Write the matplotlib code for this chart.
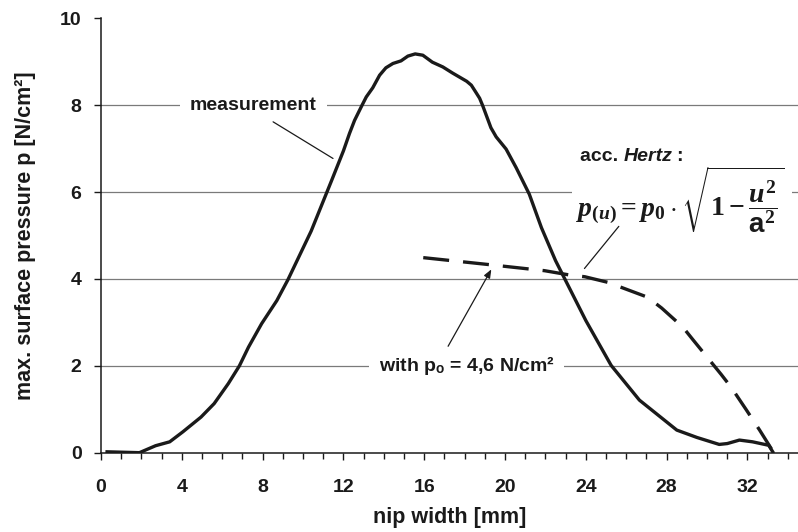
import matplotlib
matplotlib.use("Agg")
import matplotlib.pyplot as plt
from matplotlib.patches import Rectangle
from matplotlib.ticker import MultipleLocator

plt.rcParams['font.family'] = ['Liberation Sans', 'DejaVu Sans']
plt.rcParams['font.weight'] = 'bold'
plt.rcParams['axes.labelweight'] = 'bold'
plt.rcParams['mathtext.fontset'] = 'custom'
plt.rcParams['mathtext.rm'] = 'Liberation Serif:bold'
plt.rcParams['mathtext.it'] = 'Liberation Serif:italic:bold'
plt.rcParams['mathtext.bf'] = 'Liberation Serif:bold'
plt.rcParams['mathtext.sf'] = 'Liberation Sans'

# measured pressure profile across the nip
meas_x = [0.3, 1.9, 2.7, 3.4, 4.05, 4.95, 5.6, 6.3, 6.85, 7.3, 7.95, 8.7, 9.25,
          10.4, 11.4, 12.0, 12.3, 12.55, 12.9, 13.13, 13.45, 13.79, 14.1, 14.45,
          14.85, 15.19, 15.55, 15.93, 16.4, 16.92, 17.4, 18.1, 18.33, 18.55,
          18.74, 18.9, 19.3, 19.56, 20.05, 20.55, 21.2, 21.8, 22.5, 23.0, 24.0,
          25.25, 26.65, 28.5, 29.5, 30.6, 31.0, 31.6, 32.25, 33.05, 33.25]
meas_y = [0.02, 0.0, 0.16, 0.25, 0.48, 0.82, 1.13, 1.59, 2.0, 2.43, 2.97, 3.5, 3.98,
          5.1, 6.25, 6.95, 7.35, 7.65, 7.98, 8.19, 8.4, 8.69, 8.86, 8.96,
          9.02, 9.13, 9.18, 9.15, 8.99, 8.88, 8.74, 8.55, 8.46, 8.3,
          8.16, 7.98, 7.48, 7.27, 6.99, 6.56, 5.95, 5.18, 4.42, 3.96, 3.04,
          2.01, 1.21, 0.52, 0.35, 0.19, 0.21, 0.29, 0.25, 0.17, 0.02]

# Hertz curve (p0 = 4,6 N/cm²)
hertz_x = [15.95, 19.2, 21.95, 23.2, 23.95, 25.1, 25.9, 27.05, 27.75, 28.8, 29.3,
           30.7, 31.2, 31.95, 32.6, 33.3]
hertz_y = [4.49, 4.33, 4.19, 4.09, 4.05, 3.92, 3.78, 3.58, 3.33, 2.89, 2.6,
           1.8, 1.5, 0.98, 0.52, 0.0]

grid_levels = [2, 4, 6, 8]
xticks = [0, 4, 8, 12, 16, 20, 24, 28, 32]
yticks = [0, 2, 4, 6, 8, 10]

ink = '#1a1a1a'

fig = plt.figure(figsize=(7.98, 5.32), dpi=100)
ax = fig.add_axes([0.1266, 0.1491, 0.8734, 0.8165])

for lv in grid_levels:
    ax.axhline(lv, color='#7a7a7a', lw=0.9, zorder=1)

ax.plot(meas_x, meas_y, color=ink, lw=2.4, solid_joinstyle='round', zorder=4)
ax.plot(hertz_x, hertz_y, color=ink, lw=2.4, dashes=(7.8, 4.2),
        dash_capstyle='butt', zorder=4)

ax.set_xlim(0, 34.5)
ax.set_ylim(0, 10)
ax.set_xticks(xticks)
ax.xaxis.set_minor_locator(MultipleLocator(1))
ax.set_yticks(yticks)
ax.tick_params(axis='x', which='major', length=5, width=1, pad=14, labelsize=14, colors=ink)
ax.tick_params(axis='x', which='minor', length=4.5, width=1, colors=ink)
ax.tick_params(axis='y', length=5, width=1, pad=9, labelsize=14, colors=ink)

for side in ['top', 'right']:
    ax.spines[side].set_visible(False)
for side in ['left', 'bottom']:
    ax.spines[side].set_linewidth(1.1)
    ax.spines[side].set_color(ink)

ax.set_xlabel('nip width [mm]', fontsize=15.5, fontweight='bold', color=ink, labelpad=8)
ax.set_ylabel('max. surface pressure p [N/cm²]', fontsize=15.5, fontweight='bold', color=ink)
ax.yaxis.set_label_coords(-0.094, 0.5)

box = dict(boxstyle='square,pad=0.5', fc='white', ec='none')

ax.text(7.55, 8, 'measurement', fontsize=14, ha='center', va='center',
        color=ink, bbox=box, zorder=3)
ax.annotate('', xy=(11.6, 6.74), xytext=(8.4, 7.65),
            arrowprops=dict(arrowstyle='-', color=ink, lw=0.9), zorder=5)

ax.text(18.1, 2, r'with p$_\mathregular{o}$ = 4,6 N/cm²', fontsize=14,
        ha='center', va='center', color=ink, bbox=box, zorder=3)
ax.annotate('', xy=(19.32, 4.22), xytext=(17.18, 2.45),
            arrowprops=dict(arrowstyle='-|>,head_length=0.5,head_width=0.2',
                            color=ink, lw=0.9, shrinkA=0, shrinkB=0), zorder=5)

t1 = ax.text(23.72, 6.81, 'acc. ', fontsize=14, ha='left', va='center', color=ink, zorder=6)
t2 = ax.annotate('Hertz', xy=(1, 0), xycoords=t1, ha='left', va='bottom',
                 fontsize=14, style='italic', color=ink, zorder=6)
ax.annotate(':', xy=(1, 0), xycoords=t2, xytext=(2.5, 0), textcoords='offset points',
            ha='left', va='bottom', fontsize=14, color=ink, zorder=6)

# white patch behind the formula (breaks the 6-gridline)
ax.add_patch(Rectangle((23.3, 5.0), 10.9, 1.72, fc='white', ec='none', zorder=2))
f1 = ax.text(23.5, 5.45, r'$p_{(u)} = p_0 \cdot$', fontsize=20,
             ha='left', va='baseline', color=ink, zorder=3)
ax.annotate(r'$\sqrt{1 - \dfrac{u^2}{\mathsf{a}^2}}$', xy=(1, 5.45),
            xycoords=(f1, 'data'), xytext=(3.5, 0), textcoords='offset points',
            fontsize=20, ha='left', va='baseline', color=ink, zorder=3)
ax.annotate('', xy=(23.93, 4.24), xytext=(25.63, 5.21),
            arrowprops=dict(arrowstyle='-', color=ink, lw=0.9,
                            shrinkA=0, shrinkB=0), zorder=5)

fig.savefig('out.png', dpi=100)
